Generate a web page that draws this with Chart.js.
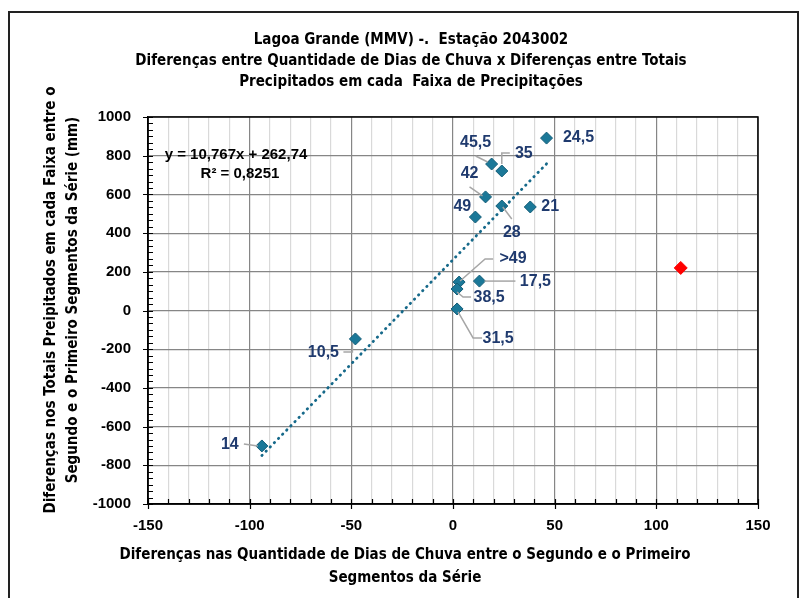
<!DOCTYPE html>
<html>
<head>
<meta charset="utf-8">
<title>Lagoa Grande (MMV) - Estação 2043002</title>
<script src="https://cdn.jsdelivr.net/npm/chart.js@4.4.1/dist/chart.umd.min.js"></script>
<style>
  html, body { margin: 0; padding: 0; background: #fff; }
  #wrap { position: relative; width: 803px; height: 598px; overflow: hidden; }
  #moldura { position: absolute; left: 8px; top: 11px; width: 791px; height: 620px;
             border: 2px solid #222; box-sizing: border-box; }
  #grafico { position: absolute; left: 0; top: 0; }
</style>
</head>
<body>
<div id="wrap">
  <div id="moldura"></div>
  <canvas id="grafico" width="803" height="598"></canvas>
</div>
<script>
// faixas de precipitação (rótulos dos pontos)
const faixas = ['>49', '49', '45,5', '42', '38,5', '35', '31,5', '28', '24,5', '21', '17,5', '14', '10,5'];
// diferença na quantidade de dias de chuva (2º - 1º segmento)
const difDias = [3, 11, 19, 16, 2, 24, 2, 24, 46, 38, 13, -94, -48];
// diferença nos totais precipitados (mm)
const difTotais = [147, 483, 757, 587, 111, 721, 8, 540, 891, 535, 152, -700, -147];
// ponto fora da regressão (vermelho)
const foraDias = [112];
const foraTotais = [220];

// linha de tendência linear (Excel)
const coefA = 10.767;
const coefB = 262.74;
const equacao = 'y = 10,767x + 262,74';
const textoR2 = 'R² = 0,8251';

const titulo = [
  'Lagoa Grande (MMV) -.  Estação 2043002',
  'Diferenças entre Quantidade de Dias de Chuva x Diferenças entre Totais',
  'Precipitados em cada  Faixa de Precipitações'
];
const tituloX = [
  'Diferenças nas Quantidade de Dias de Chuva entre o Segundo e o Primeiro',
  'Segmentos da Série'
];
const tituloY = [
  'Diferenças nos Totais Preipitados em cada Faixa entre o',
  'Segundo e o Primeiro Segmentos da Série (mm)'
];

// posição dos rótulos em px relativos ao ponto: [dx, dy, linha guia]
const posRotulos = [
  [54, -23, [[1, -1], [26, -23], [34, -23]]],
  [-13, -10, null],
  [-16, -21, [[-16, -8], [-4, -2]]],
  [-16, -23, [[-16, -10], [-3, -1]]],
  [32, 9, [[0, 3], [6, 8], [14, 8]]],
  [22, -17, [[8, -18], [0, -18], [0, -7]]],
  [41, 30, [[1, 3], [16, 29], [25, 29]]],
  [10, 27, [[1, 1], [10, 13]]],
  [32, 0, null],
  [20, 0, null],
  [56, 1, [[5, 0], [36, 0]]],
  [-32, -1, [[-18, -2], [-4, 0]]],
  [-32, 14, [[-12, 13], [-3, 13], [-3, 4]]]
];

const fonteTitulo = 'bold 15px "DejaVu Sans Condensed", "DejaVu Sans", sans-serif';
const fonteNum = 'bold 15px "Liberation Sans", Arial, sans-serif';

const xMin = Math.min(...difDias);
const xMax = Math.max(...difDias);

const textos = {
  id: 'textos',
  afterDraw(chart) {
    const ctx = chart.ctx;
    const area = chart.chartArea;
    const sx = chart.scales.x, sy = chart.scales.y;
    ctx.save();

    // moldura da área do gráfico
    ctx.strokeStyle = '#000';
    ctx.lineWidth = 1.5;
    ctx.strokeRect(area.left, area.top, area.right - area.left, area.bottom - area.top);

    // marcas dos eixos
    ctx.lineWidth = 1.2;
    ctx.beginPath();
    for (let v = -150; v <= 150; v += 10) {
      const px = Math.round(sx.getPixelForValue(v)) + 0.5;
      const maior = v % 50 === 0;
      ctx.moveTo(px, area.bottom - 5);
      ctx.lineTo(px, maior ? area.bottom + 5 : area.bottom);
    }
    for (let k = 0; k <= 60; k++) {
      const v = -1000 + k * 200 / 6;
      const py = Math.round(sy.getPixelForValue(v)) + 0.5;
      const maior = k % 6 === 0;
      ctx.moveTo(maior ? area.left - 5 : area.left, py);
      ctx.lineTo(area.left + 5, py);
    }
    ctx.stroke();

    // títulos
    ctx.fillStyle = '#000';
    ctx.textAlign = 'center';
    ctx.textBaseline = 'middle';
    ctx.font = fonteTitulo;
    titulo.forEach((t, i) => ctx.fillText(t, 411, 40 + i * 21));
    tituloX.forEach((t, i) => ctx.fillText(t, 405, 555 + i * 23));
    ctx.save();
    ctx.translate(0, 300);
    ctx.rotate(-Math.PI / 2);
    tituloY.forEach((t, i) => ctx.fillText(t, 0, 51 + i * 22));
    ctx.restore();

    // equação da tendência
    ctx.font = fonteNum;
    ctx.fillText(equacao, area.left + 88, area.top + 38);
    ctx.fillText(textoR2, area.left + 92, area.top + 57);

    // rótulos dos pontos com linhas guia
    const meta = chart.getDatasetMeta(1);
    meta.data.forEach((el, i) => {
      const [dx, dy, guia] = posRotulos[i];
      if (guia) {
        ctx.strokeStyle = '#a6a6a6';
        ctx.lineWidth = 1.5;
        ctx.beginPath();
        guia.forEach(([gx, gy], j) => {
          if (j === 0) ctx.moveTo(el.x + gx, el.y + gy);
          else ctx.lineTo(el.x + gx, el.y + gy);
        });
        ctx.stroke();
      }
      ctx.fillStyle = '#1f3a6e';
      ctx.font = 'bold 16px "Liberation Sans", Arial, sans-serif';
      ctx.fillText(faixas[i], el.x + dx, el.y + dy);
    });
    ctx.restore();
  }
};

new Chart(document.getElementById('grafico'), {
  type: 'scatter',
  data: {
    datasets: [
      {
        label: 'Linear',
        data: [{ x: xMin, y: coefA * xMin + coefB }, { x: xMax, y: coefA * xMax + coefB }],
        showLine: true,
        pointRadius: 0,
        borderColor: '#16698a',
        borderWidth: 2.8,
        borderDash: [0.5, 5.4],
        borderCapStyle: 'round'
      },
      {
        label: 'Faixas',
        data: difDias.map((x, i) => ({ x: x, y: difTotais[i] })),
        pointStyle: 'rectRot',
        pointRadius: 6,
        backgroundColor: '#1b7898',
        borderColor: '#135d78',
        borderWidth: 1
      },
      {
        label: 'Fora',
        data: foraDias.map((x, i) => ({ x: x, y: foraTotais[i] })),
        pointStyle: 'rectRot',
        pointRadius: 6.5,
        backgroundColor: '#ff0000',
        borderColor: '#ff0000',
        borderWidth: 1
      }
    ]
  },
  options: {
    responsive: false,
    animation: false,
    devicePixelRatio: 1,
    layout: { padding: { left: 0, right: 45, top: 117, bottom: 0 } },
    plugins: {
      legend: { display: false },
      tooltip: { enabled: false },
      title: { display: false }
    },
    scales: {
      x: {
        type: 'linear',
        min: -150,
        max: 150,
        afterFit: (s) => { s.height = 94; },
        border: { color: '#000', width: 1.5 },
        grid: {
          drawTicks: false,
          color: (c) => (c.tick.value % 50 === 0 ? '#868686' : '#d9d9d9'),
          lineWidth: 1.2
        },
        ticks: {
          stepSize: 10,
          autoSkip: false,
          maxRotation: 0,
          padding: 13,
          color: '#000',
          font: { family: '"Liberation Sans", Arial, sans-serif', size: 15, weight: 'bold' },
          callback: (v) => (v % 50 === 0 ? String(v) : '')
        }
      },
      y: {
        type: 'linear',
        min: -1000,
        max: 1000,
        afterFit: (s) => { s.width = 148; },
        border: { color: '#000', width: 1.5 },
        grid: { drawTicks: false, color: '#868686', lineWidth: 1.2 },
        ticks: {
          stepSize: 200,
          autoSkip: false,
          padding: 17,
          color: '#000',
          font: { family: '"Liberation Sans", Arial, sans-serif', size: 15, weight: 'bold' },
          callback: (v) => String(v)
        }
      }
    }
  },
  plugins: [textos]
});
</script>
</body>
</html>
